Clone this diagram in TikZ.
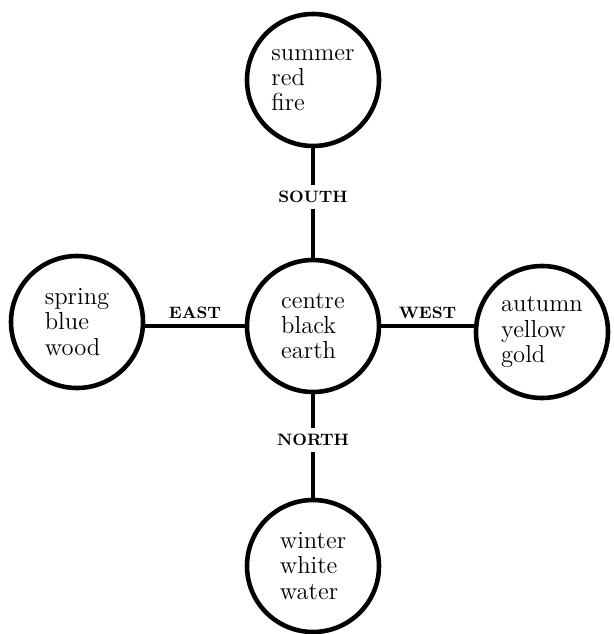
\documentclass[tikz,border=0pt]{standalone}
\usepackage{tikz}

\tikzset{
  season/.style={draw, circle, line width=2.6pt, minimum size=2.64cm, inner sep=0pt,
                 align=left, font=\fontsize{14}{14.4}\selectfont},
  quarter/.style={font=\fontsize{9.4}{10}\selectfont\bfseries, inner xsep=2pt, inner ysep=0.11cm},
  stem/.style={line width=2.2pt}
}

\begin{document}
\begin{tikzpicture}
				%%%%% START %%%%%
				\def\xmid{6.26}
				\def\ymid{-6.52}
				\def\ytop{-1.6}
				\def\ybot{-11.32}

				\useasboundingbox (0,0) rectangle (12.28,-12.68);

				\node[season] (centre) at (\xmid,\ymid) {centre\\black\\earth};
				\node[season] (summer) at (\xmid,\ytop) {summer\\red\\fire};
				\node[season] (winter) at (\xmid,\ybot) {winter\\white\\water};
				\node[season] (spring) at (1.54,-6.44) {spring\\blue\\wood};
				\node[season] (autumn) at (10.84,-6.64) {autumn\\yellow\\gold};

				\node[quarter] (south) at (\xmid,-3.94) {SOUTH};
				\node[quarter] (north) at (\xmid,-8.8) {NORTH};

				\draw[stem] (summer) -- (south) -- (centre);
				\draw[stem] (centre) -- (north) -- (winter);
				\draw[stem] (centre.west) -- node[quarter, above, inner ysep=3pt] {EAST} (centre.west -| spring.east);
				\draw[stem] (centre.east) -- node[quarter, above, inner ysep=3pt] {WEST} (centre.east -| autumn.west);
				%%%%% END %%%%%
\end{tikzpicture}
\end{document}
